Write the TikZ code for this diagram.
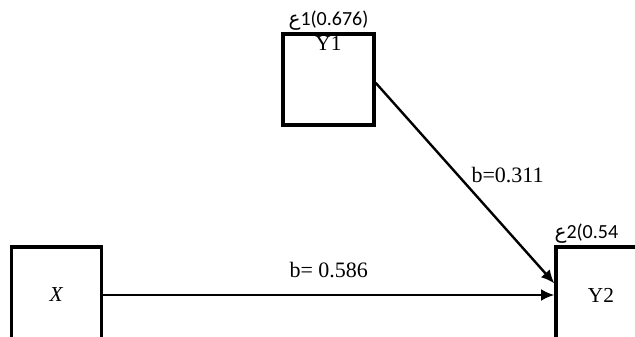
\documentclass[tikz,border=0pt]{standalone}
\usepackage{fontspec}
\setmainfont{Liberation Serif}
\newfontfamily\errfont{Carlito}
\newfontfamily\arabicfont[Script=Arabic]{DejaVu Sans}
\TeXXeTstate=1
\usetikzlibrary{arrows.meta, positioning}
\tikzset{
  Box/.style     = {draw=black, line width=2.5pt, minimum width=67.5pt, minimum height=72pt,
                    inner sep=0pt, font=\fontsize{16}{19}\selectfont},
  TopLab/.style  = {anchor=north, inner sep=3pt, font=\fontsize{16}{19}\selectfont},
  ErrLab/.style  = {inner sep=1.5pt, font=\errfont\fontsize{15}{18}\selectfont},
  Path/.style    = {line width=1.8pt, -{Latex[length=10pt, width=9pt]}},
  PathLab/.style = {font=\fontsize{16.5}{19}\selectfont},
}
\newcommand{\ain}{{\arabicfont\beginR ع\endR}}

\begin{document}
\begin{tikzpicture}[x=0.75pt, y=-0.75pt]
\useasboundingbox (0,0) rectangle (635,336);
\clip (0,0) rectangle (635,336);

% ======================= boxes ===========================================
\node[Box, minimum height=68.25pt, minimum width=68.25pt,
      label={[TopLab]north:Y1},
      label={[ErrLab]north:\ain1(0.676)}] (Y1) at (328.5,79.5) {};
\node[Box] (X)  at (56.5,295) {\textit{X}};
\node[Box] (Y2) at (601,295)  {Y2};
\node[ErrLab, anchor=south west, inner xsep=0pt] (e2) at (Y2.north west) {\ain2(0.54};

% ======================= paths ===========================================
\draw[Path] (X.east) -- node[PathLab, above=9pt] {b= 0.586} (Y2.west);
\draw[Path] (Y1.-4) -- node[PathLab, pos=0.46, right=6pt] {b=0.311} (Y2.166);

\end{tikzpicture}
\end{document}
